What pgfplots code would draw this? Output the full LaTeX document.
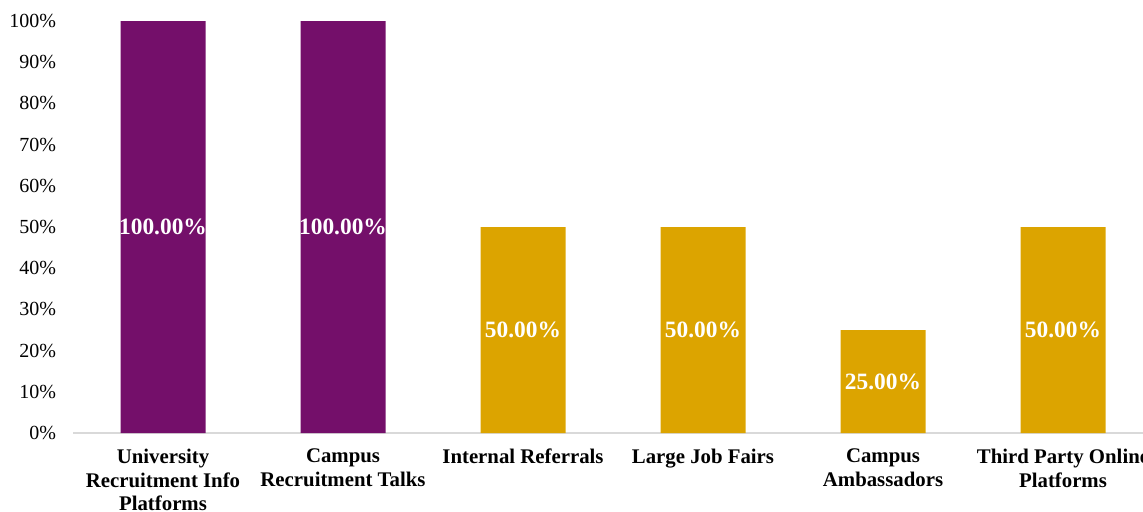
\documentclass[border=0pt]{standalone}
\usepackage{fontspec}
\setmainfont{Liberation Serif}
\usepackage{pgfplots}
\pgfplotsset{compat=1.18}
\definecolor{cpurple}{RGB}{116,15,106}
\definecolor{cgold}{RGB}{220,164,0}
\definecolor{caxis}{RGB}{217,217,217}
\begin{document}
\begin{tikzpicture}
\useasboundingbox (0,0) rectangle (571.5pt,255.5pt);
\clip (0,0) rectangle (571.5pt,255.5pt);
\begin{axis}[
  at={(36.5pt,39pt)}, anchor=south west,
  scale only axis, width=540pt, height=206pt,
  xmin=-0.5, xmax=5.5, ymin=0, ymax=100,
  axis lines*=left,
  x axis line style={draw=caxis, line width=0.8pt},
  y axis line style={draw=none},
  xtick={0,1,2,3,4,5},
  xticklabels={University\\Recruitment Info\\Platforms, Campus\\Recruitment Talks, Internal Referrals, Large Job Fairs, Campus\\Ambassadors, Third Party Online\\Platforms},
  xticklabel style={align=center, font=\bfseries\fontsize{10.4}{11.8}\selectfont, text depth=0pt, yshift=-4.5pt},
  ytick={0,10,...,100},
  yticklabel={\pgfmathprintnumber{\tick}\%},
  yticklabel style={font=\fontsize{10}{11}\selectfont, xshift=-5pt},
  tick style={draw=none},
  major tick length=0pt,
  /pgf/number format/assume math mode=true,
  clip=false,
]
\addplot[ybar, bar width=42.5pt, bar shift=0pt, fill=cpurple, draw=none] coordinates {(0,100) (1,100)};
\addplot[ybar, bar width=42.5pt, bar shift=0pt, fill=cgold, draw=none] coordinates {(2,50) (3,50) (4,25) (5,50)};
\addplot[draw=none, mark=none, point meta=explicit,
  nodes near coords={\pgfmathprintnumber[fixed,zerofill,precision=2]{\pgfplotspointmeta}\%},
  every node near coord/.append style={anchor=center, text=white, font=\bfseries\fontsize{11.7}{13}\selectfont}]
  coordinates {(0,50) [100] (1,50) [100] (2,25) [50] (3,25) [50] (4,12.5) [25] (5,25) [50]};
\end{axis}
\end{tikzpicture}
\end{document}
